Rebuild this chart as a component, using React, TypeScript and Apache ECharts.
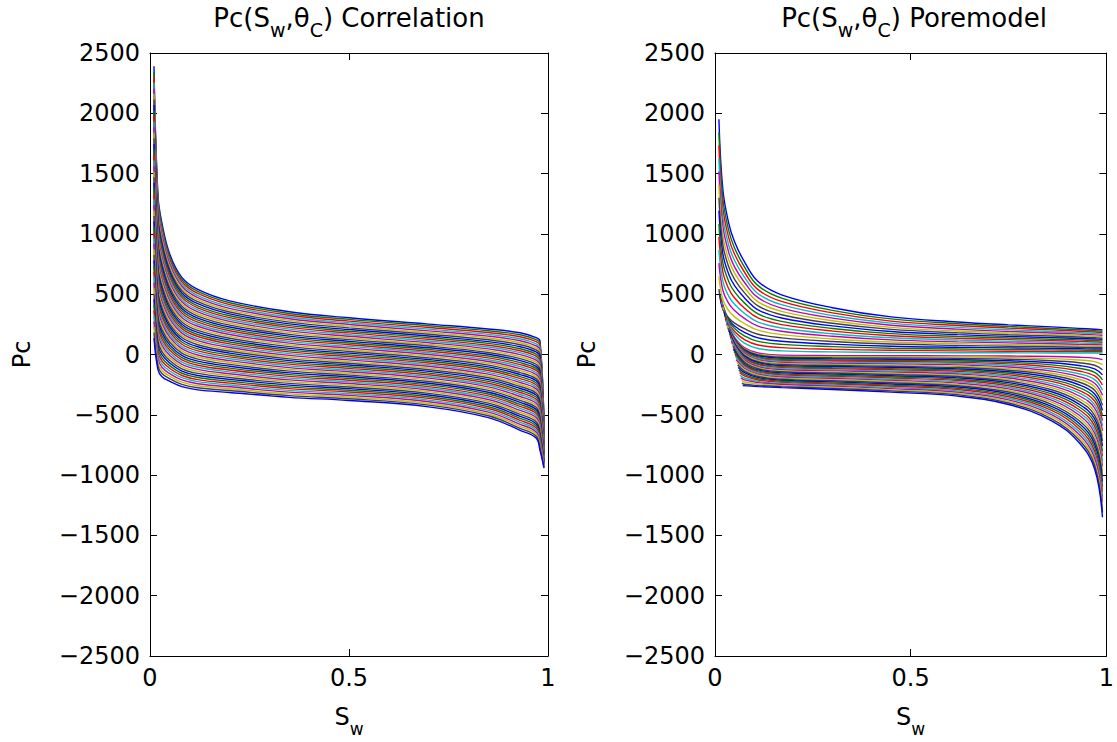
import React, { useEffect, useRef } from "react";
import * as echarts from "echarts";

// MATLAB default colour order (lines are drawn in this cycle)
const lineColors = ["#0000FF", "#008000", "#FF0000", "#00BFBF", "#BF00BF", "#BFBF00", "#404040"];

const titles = ["Correlation", "Poremodel"];
const xTicks = { min: 0, max: 1, interval: 0.5 };
const yTicks = { min: -2500, max: 2500, interval: 500 };

// ---------- Left panel: Pc(Sw, thetaC) correlation ----------
const leftSw = [0.01, 0.02, 0.03, 0.05, 0.08, 0.12, 0.2, 0.35, 0.5, 0.7, 0.85, 0.93, 0.97, 0.98, 0.99];
// one row per Sw sample; entries: the 50 curves, top (thetaC = 0) to bottom (thetaC = 180)
const leftPc = [
  [2390, 2344, 2298, 2252, 2206, 2160, 2114, 2068, 2022, 1976, 1930, 1884, 1838, 1792, 1746, 1700, 1654, 1608, 1562, 1516, 1470, 1424, 1378, 1332, 1286, 1240, 1194, 1148, 1102, 1056, 1010, 964, 918, 872, 826, 780, 734, 688, 642, 596, 550, 504, 458, 412, 366, 320, 274, 228, 182, 136],
  [1320, 1290.5, 1261, 1231.5, 1202, 1172.5, 1143, 1113.5, 1084, 1054.5, 1025, 995.5, 966, 936.5, 907, 877.5, 848, 818.5, 789, 759.5, 730, 700.5, 671, 641.5, 612, 582.5, 553, 523.5, 494, 464.5, 435, 405.5, 376, 346.5, 317, 287.5, 258, 228.5, 199, 169.5, 140, 110.5, 81, 51.5, 22, -7.5, -37, -66.5, -96, -125.5],
  [1090, 1064, 1038, 1012, 986, 960, 934, 908, 882, 856, 830, 804, 778, 752, 726, 700, 674, 648, 622, 596, 570, 544, 518, 492, 466, 440, 414, 388, 362, 336, 310, 284, 258, 232, 206, 180, 154, 128, 102, 76, 50, 24, -2, -28, -54, -80, -106, -132, -158, -184],
  [830, 808.5, 787, 765.5, 744, 722.5, 701, 679.5, 658, 636.5, 615, 593.5, 572, 550.5, 529, 507.5, 486, 464.5, 443, 421.5, 400, 378.5, 357, 335.5, 314, 292.5, 271, 249.5, 228, 206.5, 185, 163.5, 142, 120.5, 99, 77.5, 56, 34.5, 13, -8.5, -30, -51.5, -73, -94.5, -116, -137.5, -159, -180.5, -202, -223.5],
  [640, 621.5, 603, 584.5, 566, 547.5, 529, 510.5, 492, 473.5, 455, 436.5, 418, 399.5, 381, 362.5, 344, 325.5, 307, 288.5, 270, 251.5, 233, 214.5, 196, 177.5, 159, 140.5, 122, 103.5, 85, 66.5, 48, 29.5, 11, -7.5, -26, -44.5, -63, -81.5, -100, -118.5, -137, -155.5, -174, -192.5, -211, -229.5, -248, -266.5],
  [540, 523, 506, 489, 472, 455, 438, 421, 404, 387, 370, 353, 336, 319, 302, 285, 268, 251, 234, 217, 200, 183, 166, 149, 132, 115, 98, 81, 64, 47, 30, 13, -4, -21, -38, -55, -72, -89, -106, -123, -140, -157, -174, -191, -208, -225, -242, -259, -276, -293],
  [445, 429.5, 414, 398.5, 383, 367.5, 352, 336.5, 321, 305.5, 290, 274.5, 259, 243.5, 228, 212.5, 197, 181.5, 166, 150.5, 135, 119.5, 104, 88.5, 73, 57.5, 42, 26.5, 11, -4.5, -20, -35.5, -51, -66.5, -82, -97.5, -113, -128.5, -144, -159.5, -175, -190.5, -206, -221.5, -237, -252.5, -268, -283.5, -299, -314.5],
  [355, 340.5, 326, 311.5, 297, 282.5, 268, 253.5, 239, 224.5, 210, 195.5, 181, 166.5, 152, 137.5, 123, 108.5, 94, 79.5, 65, 50.5, 36, 21.5, 7, -7.5, -22, -36.5, -51, -65.5, -80, -94.5, -109, -123.5, -138, -152.5, -167, -181.5, -196, -210.5, -225, -239.5, -254, -268.5, -283, -297.5, -312, -326.5, -341, -355.5],
  [305, 291, 277, 263, 249, 235, 221, 207, 193, 179, 165, 151, 137, 123, 109, 95, 81, 67, 53, 39, 25, 11, -3, -17, -31, -45, -59, -73, -87, -101, -115, -129, -143, -157, -171, -185, -199, -213, -227, -241, -255, -269, -283, -297, -311, -325, -339, -353, -367, -381],
  [252, 238, 224, 210, 196, 182, 168, 154, 140, 126, 112, 98, 84, 70, 56, 42, 28, 14, 0, -14, -28, -42, -56, -70, -84, -98, -112, -126, -140, -154, -168, -182, -196, -210, -224, -238, -252, -266, -280, -294, -308, -322, -336, -350, -364, -378, -392, -406, -420, -434],
  [212, 197, 182, 167, 152, 137, 122, 107, 92, 77, 62, 47, 32, 17, 2, -13, -28, -43, -58, -73, -88, -103, -118, -133, -148, -163, -178, -193, -208, -223, -238, -253, -268, -283, -298, -313, -328, -343, -358, -373, -388, -403, -418, -433, -448, -463, -478, -493, -508, -523],
  [180, 163.5, 147, 130.5, 114, 97.5, 81, 64.5, 48, 31.5, 15, -1.5, -18, -34.5, -51, -67.5, -84, -100.5, -117, -133.5, -150, -166.5, -183, -199.5, -216, -232.5, -249, -265.5, -282, -298.5, -315, -331.5, -348, -364.5, -381, -397.5, -414, -430.5, -447, -463.5, -480, -496.5, -513, -529.5, -546, -562.5, -579, -595.5, -612, -628.5],
  [140, 123, 106, 89, 72, 55, 38, 21, 4, -13, -30, -47, -64, -81, -98, -115, -132, -149, -166, -183, -200, -217, -234, -251, -268, -285, -302, -319, -336, -353, -370, -387, -404, -421, -438, -455, -472, -489, -506, -523, -540, -557, -574, -591, -608, -625, -642, -659, -676, -693],
  [110, 91.5, 73, 54.5, 36, 17.5, -1, -19.5, -38, -56.5, -75, -93.5, -112, -130.5, -149, -167.5, -186, -204.5, -223, -241.5, -260, -278.5, -297, -315.5, -334, -352.5, -371, -389.5, -408, -426.5, -445, -463.5, -482, -500.5, -519, -537.5, -556, -574.5, -593, -611.5, -630, -648.5, -667, -685.5, -704, -722.5, -741, -759.5, -778, -796.5],
  [-600, -607, -614, -621, -628, -635, -642, -649, -656, -663, -670, -677, -684, -691, -698, -705, -712, -719, -726, -733, -740, -747, -754, -761, -768, -775, -782, -789, -796, -803, -810, -817, -824, -831, -838, -845, -852, -859, -866, -873, -880, -887, -894, -901, -908, -915, -922, -929, -936, -943],
];

// ---------- Right panel: Pc(Sw, thetaC) pore model ----------
const rightSw = [0.01, 0.02, 0.035, 0.05, 0.075, 0.11, 0.17, 0.3, 0.45, 0.62, 0.75, 0.86, 0.93, 0.97, 0.99];
// one row per curve (top to bottom); null = curve not defined at that Sw
const rightPc = [
  [1950, 1370, 1090, 935, 770, 605, 495, 388, 312, 270, 246, 229, 217, 209, 204],
  [1842, 1294, 1029, 883, 727, 571, 468, 366, 295, 255, 232, 216, 205, 197, 193],
  [1733, 1218, 969, 831, 684, 538, 440, 345, 277, 240, 219, 204, 193, 186, 181],
  [1625, 1142, 908, 779, 642, 504, 413, 323, 260, 225, 205, 191, 181, 174, 170],
  [1517, 1066, 848, 727, 599, 471, 385, 302, 243, 210, 191, 178, 169, 163, 159],
  [1408, 989, 787, 675, 556, 437, 358, 280, 225, 195, 178, 165, 157, 151, 147],
  [1300, 913, 727, 623, 513, 403, 330, 259, 208, 180, 164, 153, 145, 139, 136],
  [1192, 837, 666, 571, 471, 370, 303, 237, 191, 165, 150, 140, 133, 128, 125],
  [1083, 761, 606, 519, 428, 336, 275, 216, 173, 150, 137, 127, 121, 116, 113],
  [975, 685, 545, 468, 385, 303, 248, 194, 156, 135, 123, 115, 109, 104, 102],
  [867, 609, 484, 416, 342, 269, 220, 172, 139, 120, 109, 102, 96, 93, 91],
  [758, 533, 424, 364, 299, 235, 193, 151, 121, 105, 96, 89, 84, 81, 79],
  [650, 457, 363, 312, 257, 202, 165, 129, 104, 90, 82, 76, 72, 70, 68],
  [542, 381, 303, 260, 214, 168, 138, 108, 87, 75, 68, 64, 60, 58, 57],
  [null, 375, 289, 236, 183, 138, 110, 86, 69, 60, 55, 51, 48, 46, 45],
  [null, null, 281, 216, 154, 109, 84, 65, 52, 45, 41, 38, 36, 35, 34],
  [null, null, 264, 190, 124, 79, 57, 43, 35, 30, 27, 25, 24, 23, 23],
  [null, null, 254, 169, 94, 50, 30, 22, 17, 15, 14, 13, 12, 12, 11],
  [null, null, 239, 142, 57, 12, -6, -9, -10, -11, -13, -17, -23, -30, -42],
  [null, null, 232, 134, 49, 3, -14, -18, -20, -22, -26, -34, -46, -59, -84],
  [null, null, 226, 131, 43, -4, -23, -27, -29, -32, -39, -52, -68, -89, -127],
  [null, null, 220, 127, 36, -11, -31, -36, -39, -43, -52, -69, -91, -119, -169],
  [null, null, 214, 123, 30, -20, -40, -45, -49, -54, -65, -86, -114, -148, -211],
  [null, null, 208, 116, 22, -28, -49, -54, -59, -65, -78, -103, -137, -178, -253],
  [null, null, 202, 112, 16, -35, -57, -63, -68, -75, -91, -120, -160, -208, -295],
  [null, null, null, 109, 10, -44, -66, -73, -78, -86, -104, -138, -183, -238, -338],
  [null, null, null, 100, 1, -52, -74, -82, -88, -97, -117, -155, -205, -267, -380],
  [null, null, null, 95, -6, -60, -83, -91, -98, -108, -130, -172, -228, -297, -422],
  [null, null, null, 90, -12, -67, -92, -100, -107, -119, -143, -189, -251, -327, -464],
  [null, null, null, 79, -23, -77, -100, -109, -117, -129, -156, -206, -274, -356, -506],
  [null, null, null, 73, -30, -84, -109, -118, -127, -140, -169, -223, -297, -386, -548],
  [null, null, null, 69, -37, -92, -117, -127, -137, -151, -182, -241, -319, -416, -591],
  [null, null, null, 56, -47, -102, -127, -136, -146, -162, -195, -258, -342, -445, -633],
  [null, null, null, 48, -55, -110, -136, -145, -156, -173, -208, -275, -365, -475, -675],
  [null, null, null, null, -63, -118, -143, -154, -166, -183, -220, -292, -388, -505, -717],
  [null, null, null, null, -74, -128, -152, -163, -176, -194, -233, -309, -411, -534, -759],
  [null, null, null, null, -82, -136, -161, -172, -185, -205, -246, -327, -433, -564, -802],
  [null, null, null, null, -92, -144, -170, -181, -195, -216, -259, -344, -456, -594, -844],
  [null, null, null, null, -102, -153, -178, -190, -205, -226, -272, -361, -479, -623, -886],
  [null, null, null, null, -114, -163, -187, -199, -215, -237, -285, -378, -502, -653, -928],
  [null, null, null, null, -125, -172, -197, -208, -224, -248, -298, -395, -525, -683, -970],
  [null, null, null, null, -137, -182, -205, -218, -234, -259, -311, -413, -548, -713, -1013],
  [null, null, null, null, -151, -192, -214, -227, -244, -270, -324, -430, -570, -742, -1055],
  [null, null, null, null, -164, -201, -222, -236, -254, -280, -337, -447, -593, -772, -1097],
  [null, null, null, null, -178, -211, -231, -245, -263, -291, -350, -464, -616, -802, -1139],
  [null, null, null, null, -195, -223, -241, -254, -273, -302, -363, -481, -639, -831, -1181],
  [null, null, null, null, -211, -233, -249, -263, -283, -313, -376, -498, -662, -861, -1223],
  [null, null, null, null, -228, -244, -258, -272, -293, -323, -389, -516, -684, -891, -1266],
  [null, null, null, null, -247, -257, -266, -281, -302, -334, -402, -533, -707, -920, -1308],
  [null, null, null, null, null, -266, -275, -290, -312, -345, -415, -550, -730, -950, -1350],
];
// first point [Sw, Pc] of curves 14..49, which begin on the diagonal edge at low Sw
const rightStart = [
  [0.012, 500], [0.014, 478], [0.015, 457], [0.017, 435], [0.019, 413], [0.02, 392],
  [0.022, 370], [0.024, 348], [0.026, 327], [0.027, 305], [0.029, 283], [0.031, 262],
  [0.032, 240], [0.034, 218], [0.036, 197], [0.037, 175], [0.039, 153], [0.041, 132],
  [0.042, 110], [0.044, 88], [0.046, 67], [0.047, 45], [0.049, 23], [0.051, 2],
  [0.053, -20], [0.054, -42], [0.056, -63], [0.058, -85], [0.059, -107], [0.061, -128],
  [0.063, -150], [0.064, -172], [0.066, -193], [0.068, -215], [0.069, -237], [0.071, -258],
];
const rightStartRow = 14;

const FONT = "DejaVu Sans";
const grids = [
  { left: 150, top: 53, width: 398, height: 614 },
  { left: 715, top: 53, width: 398, height: 614 },
];

const fmtY = (v: number) => (v < 0 ? "\u2212" + Math.abs(v) : String(v));

const richAxis = {
  n: { fontFamily: FONT, fontSize: 24, color: "#000" },
  s: { fontFamily: FONT, fontSize: 17, color: "#000", padding: [24, 0, 0, 0] },
};
const richTitle = {
  n: { fontFamily: FONT, fontSize: 26, fill: "#000" },
  s: { fontFamily: FONT, fontSize: 19, fill: "#000", padding: [24, 0, 0, 0] },
};

function buildOption() {
  const xAxis: any[] = [];
  const yAxis: any[] = [];
  grids.forEach((_, g) => {
    const tick = { inside: true, length: 7, lineStyle: { color: "#000", width: 1 } };
    const line = { onZero: false, lineStyle: { color: "#000", width: 1 } };
    xAxis.push({
      type: "value", gridIndex: g, ...xTicks, position: "bottom",
      axisLine: line, axisTick: tick, splitLine: { show: false },
      axisLabel: { fontFamily: FONT, fontSize: 24, color: "#000", margin: 10 },
      name: "{n|S}{s|w}", nameLocation: "middle", nameGap: 40,
      nameTextStyle: { rich: richAxis },
    });
    xAxis.push({
      type: "value", gridIndex: g, ...xTicks, position: "top",
      axisLine: line, axisTick: tick, splitLine: { show: false }, axisLabel: { show: false },
    });
    yAxis.push({
      type: "value", gridIndex: g, ...yTicks, position: "left",
      axisLine: line, axisTick: tick, splitLine: { show: false },
      axisLabel: { fontFamily: FONT, fontSize: 24, color: "#000", margin: 10, formatter: fmtY },
      name: "Pc", nameLocation: "middle", nameGap: 116, nameRotate: 90,
      nameTextStyle: { fontFamily: FONT, fontSize: 24, color: "#000" },
    });
    yAxis.push({
      type: "value", gridIndex: g, ...yTicks, position: "right",
      axisLine: line, axisTick: tick, splitLine: { show: false }, axisLabel: { show: false },
    });
  });

  const series: any[] = [];
  const mk = (g: number, i: number, data: number[][]) => ({
    type: "line", xAxisIndex: g * 2, yAxisIndex: g * 2, data,
    showSymbol: false, symbol: "none", smooth: 0.4, silent: true,
    lineStyle: { width: 1.4, color: lineColors[i % lineColors.length] },
  });
  const nLeft = leftPc[0].length;
  for (let i = 0; i < nLeft; i++) {
    series.push(mk(0, i, leftSw.map((sw, j) => [sw, leftPc[j][i]])));
  }
  rightPc.forEach((row, i) => {
    const pts: number[][] = [];
    if (i >= rightStartRow) pts.push(rightStart[i - rightStartRow]);
    row.forEach((v, j) => { if (v !== null) pts.push([rightSw[j], v as number]); });
    series.push(mk(1, i, pts));
  });

  const graphic = grids.map((gr, g) => ({
    type: "text",
    x: gr.left + gr.width / 2,
    y: 18,
    style: {
      text: `{n|Pc(S}{s|w}{n|,\u03b8}{s|C}{n|) ${titles[g]}}`,
      rich: richTitle,
      align: "center",
      verticalAlign: "middle",
      fill: "#000",
    },
  }));

  return {
    animation: false,
    backgroundColor: "#fff",
    grid: grids,
    xAxis, yAxis, series, graphic,
  };
}

export default function App() {
  const ref = useRef<HTMLDivElement>(null);
  useEffect(() => {
    if (!ref.current) return;
    const chart = echarts.init(ref.current, undefined, { renderer: "svg" });
    chart.setOption(buildOption() as any);
    return () => chart.dispose();
  }, []);
  return (
    <div
      ref={ref}
      style={{ position: "absolute", left: 0, top: 0, width: 1117, height: 742, background: "#fff" }}
    />
  );
}
